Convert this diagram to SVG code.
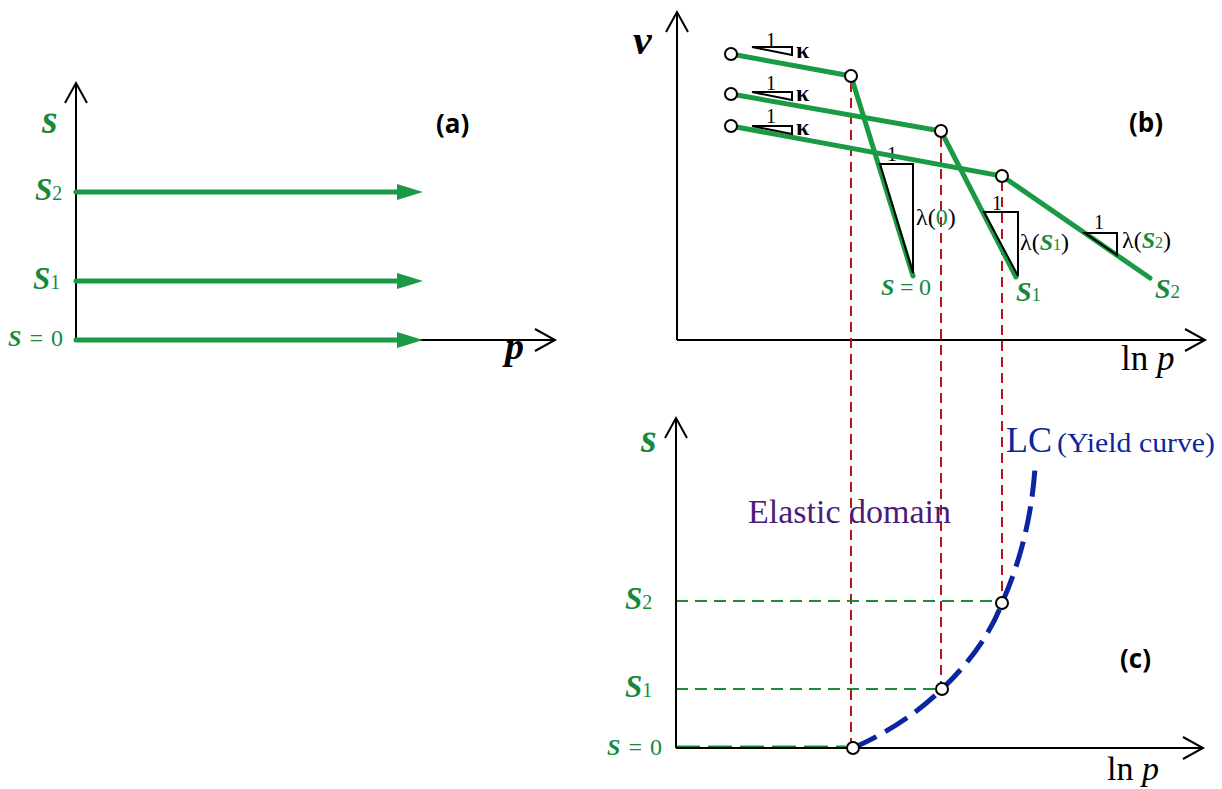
<svg xmlns="http://www.w3.org/2000/svg" width="1222" height="789" viewBox="0 0 1222 789">
<style>
.ax{stroke:#000;stroke-width:2;fill:none}
.g{stroke:#1a9a44;stroke-width:5;fill:none;stroke-linecap:round}
.gt{fill:#17893b;font-family:"Liberation Serif",serif}
.it{font-style:italic}
.bi{font-style:italic;font-weight:bold}
.sl{font-style:italic;font-weight:bold}
.bk{fill:#000;font-family:"Liberation Serif",serif}
.lab{fill:#000;font-family:"Open Sans","Liberation Sans",sans-serif;font-weight:bold;font-size:26px}
.tri{stroke:#000;stroke-width:2;fill:none}
.red{stroke:#b0161c;stroke-width:2;stroke-dasharray:10,6;fill:none}
.gd{stroke:#1e8a3c;stroke-width:2;stroke-dasharray:12,7;fill:none}
.pt{fill:#fff;stroke:#000;stroke-width:2}
</style>
<g id="panel-a">
  <line class="ax" x1="76" y1="340" x2="76" y2="83"/>
  <polyline class="ax" points="65,103 76,83 87,103"/>
  <line class="ax" x1="76" y1="340" x2="555" y2="340"/>
  <polyline class="ax" points="535,329 555,340 535,351"/>
  <text class="gt bi" x="42" y="133" font-size="40">s</text>
  <text class="lab" x="436" y="133">(a)</text>
  <text class="bk bi" x="505" y="359" font-size="38">p</text>
  <g id="a-s2">
    <line class="g" x1="76" y1="192" x2="400" y2="192" stroke-linecap="butt"/>
    <polygon points="397,184 423,192 397,200" fill="#1a9a44"/>
    <text class="gt" x="35" y="200" font-size="31"><tspan class="sl">S</tspan><tspan font-size="20">2</tspan></text>
  </g>
  <g id="a-s1">
    <line class="g" x1="76" y1="281" x2="400" y2="281" stroke-linecap="butt"/>
    <polygon points="397,273 423,281 397,289" fill="#1a9a44"/>
    <text class="gt" x="33" y="289" font-size="31"><tspan class="sl">S</tspan><tspan font-size="20">1</tspan></text>
  </g>
  <g id="a-s0">
    <line class="g" x1="76" y1="340" x2="400" y2="340" stroke-linecap="butt"/>
    <polygon points="397,332 423,340 397,348" fill="#1a9a44"/>
    <text class="gt" x="8" y="346" font-size="24" textLength="55" lengthAdjust="spacing"><tspan class="sl">S</tspan>=0</text>
  </g>
</g>
<g id="panel-b">
  <line class="ax" x1="677" y1="340" x2="677" y2="12"/>
  <polyline class="ax" points="666,32 677,12 688,32"/>
  <line class="ax" x1="677" y1="340" x2="1205" y2="340"/>
  <polyline class="ax" points="1185,329 1205,340 1185,351"/>
  <text class="bk bi" x="633" y="54" font-size="42">v</text>
  <text class="lab" x="1129" y="132">(b)</text>
  <text class="bk" x="1121" y="370" font-size="35">ln <tspan class="it">p</tspan></text>
</g>
<g id="connectors">
  <line class="red" x1="851" y1="82" x2="851" y2="742"/>
  <line class="red" x1="941" y1="137" x2="941" y2="683"/>
  <line class="red" x1="1002" y1="181" x2="1002" y2="596"/>
  <line class="gd" x1="676" y1="601" x2="996" y2="601"/>
  <line class="gd" x1="676" y1="689" x2="936" y2="689"/>
  <line stroke="#1e8a3c" stroke-width="3" stroke-dasharray="24,8" x1="676" y1="747" x2="846" y2="747"/>
</g>
<g id="curve-s0">
  <polyline class="g" points="731,54 851,76 913,276"/>
  <polygon class="tri" points="880,164 913,164 913,273"/>
  <text class="bk" x="887" y="161" font-size="20">1</text>
  <text class="bk" x="916" y="225" font-size="24">λ(<tspan fill="#17893b">0</tspan>)</text>
  <text class="gt" x="881" y="295" font-size="24" textLength="50" lengthAdjust="spacing"><tspan class="sl">S</tspan>=0</text>
  <polygon class="tri" points="752,47 792,47 792,55" stroke-width="1.5"/>
  <text class="bk" x="766" y="47" font-size="20">1</text>
  <text class="bk" x="796" y="58" font-size="24" font-weight="bold">κ</text>
  <circle class="pt" cx="731" cy="54" r="6"/>
  <circle class="pt" cx="851" cy="76" r="6"/>
</g>
<g id="curve-s1">
  <polyline class="g" points="731,94 941,131 1016,277"/>
  <polygon class="tri" points="984,212 1018,212 1018,276"/>
  <text class="bk" x="992" y="210" font-size="20">1</text>
  <text class="bk" x="1020" y="250" font-size="24">λ(<tspan fill="#17893b" class="sl">S</tspan><tspan fill="#17893b" font-size="16">1</tspan>)</text>
  <text class="gt" x="1016" y="301" font-size="28"><tspan class="sl">S</tspan><tspan font-size="19">1</tspan></text>
  <polygon class="tri" points="752,92 792,92 792,100" stroke-width="1.5"/>
  <text class="bk" x="766" y="90" font-size="20">1</text>
  <text class="bk" x="796" y="101" font-size="24" font-weight="bold">κ</text>
  <circle class="pt" cx="731" cy="94" r="6"/>
  <circle class="pt" cx="941" cy="131" r="6"/>
</g>
<g id="curve-s2">
  <polyline class="g" points="731,126 1002,176 1150,278"/>
  <polygon class="tri" points="1085,233 1117,233 1117,255"/>
  <text class="bk" x="1094" y="229" font-size="20">1</text>
  <text class="bk" x="1122" y="248" font-size="24">λ(<tspan fill="#17893b" class="sl">S</tspan><tspan fill="#17893b" font-size="16">2</tspan>)</text>
  <text class="gt" x="1155" y="298" font-size="28"><tspan class="sl">S</tspan><tspan font-size="19">2</tspan></text>
  <polygon class="tri" points="752,126 792,126 792,134" stroke-width="1.5"/>
  <text class="bk" x="766" y="123" font-size="20">1</text>
  <text class="bk" x="796" y="135" font-size="24" font-weight="bold">κ</text>
  <circle class="pt" cx="731" cy="126" r="6"/>
  <circle class="pt" cx="1002" cy="176" r="6"/>
</g>
<g id="panel-c">
  <line class="ax" x1="676" y1="748" x2="676" y2="418"/>
  <polyline class="ax" points="665,438 676,418 687,438"/>
  <line class="ax" x1="676" y1="748" x2="1203" y2="748"/>
  <polyline class="ax" points="1183,737 1203,748 1183,759"/>
  <text class="gt bi" x="641" y="452" font-size="40">s</text>
  <text class="lab" x="1120" y="668">(c)</text>
  <text class="bk" x="1107" y="780" font-size="34">ln <tspan class="it">p</tspan></text>
  <text x="748" y="523" font-family="Liberation Serif,serif" font-size="34" fill="#4b1c7a">Elastic domain</text>
  <text class="gt" x="625" y="609" font-size="31"><tspan class="sl">S</tspan><tspan font-size="20">2</tspan></text>
  <text class="gt" x="625" y="697" font-size="31"><tspan class="sl">S</tspan><tspan font-size="20">1</tspan></text>
  <text class="gt" x="607" y="755" font-size="24" textLength="55" lengthAdjust="spacing"><tspan class="sl">S</tspan>=0</text>
</g>
<g id="yield-curve">
  <path d="M853,748 Q905,725 942,689 Q985,648 1002,603 Q1030,540 1035,468" fill="none" stroke="#0b25a0" stroke-width="5" stroke-dasharray="26,10"/>
  <text x="1006" y="452" font-family="Liberation Serif,serif" font-size="36" fill="#0b25a0">LC</text>
  <text x="1057" y="452" font-family="Liberation Serif,serif" font-size="27" fill="#0b25a0" textLength="158" lengthAdjust="spacingAndGlyphs">(Yield curve)</text>
  <circle class="pt" cx="853" cy="748" r="6"/>
  <circle class="pt" cx="942" cy="689" r="6"/>
  <circle class="pt" cx="1002" cy="603" r="6"/>
</g>
</svg>
